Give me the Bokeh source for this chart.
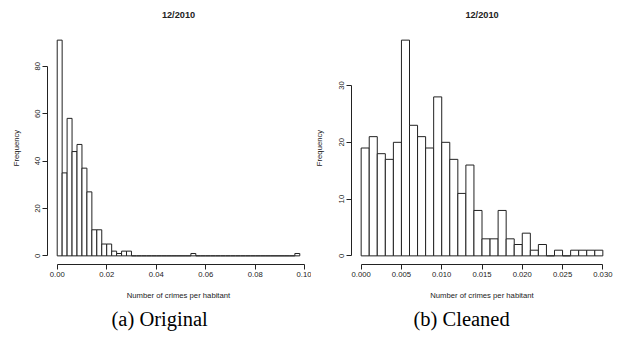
from bokeh.plotting import figure
from bokeh.models import Range1d, FixedTicker, NumeralTickFormatter, Title, ColumnDataSource
from bokeh.layouts import row
from bokeh.embed import file_html
from bokeh.resources import INLINE

# ---- data ----
panel_title = "12/2010"
x_label = "Number of crimes per habitant"
y_label = "Frequency"

orig_caption = "(a) Original"
orig_bin_width = 0.002
orig_counts = [91, 35, 58, 44, 47, 37, 27, 11, 11, 5, 5, 2, 1, 2, 2,
               0, 0, 0, 0, 0, 0, 0, 0, 0, 0, 0, 0,
               1,
               0, 0, 0, 0, 0, 0, 0, 0, 0, 0, 0, 0, 0, 0, 0, 0, 0, 0, 0, 0,
               1]
orig_x_ticks = [0.00, 0.02, 0.04, 0.06, 0.08, 0.10]
orig_y_ticks = [0, 20, 40, 60, 80]

clean_caption = "(b) Cleaned"
clean_bin_width = 0.001
clean_counts = [19, 21, 18, 17, 20, 38, 23, 21, 19, 28, 20, 17, 11, 16, 8,
                3, 3, 8, 3, 2, 4, 1, 2, 0, 1, 0, 1, 1, 1, 1]
clean_x_ticks = [0.000, 0.005, 0.010, 0.015, 0.020, 0.025, 0.030]
clean_y_ticks = [0, 10, 20, 30]

SANS = "Liberation Sans"
SERIF = "Liberation Serif"
INK = "#222222"


def make_panel(counts, bw, x_ticks, y_ticks, x_fmt, caption, left_border, cap_offset, ylab_standoff):
    n = len(counts)
    x_max = n * bw
    y_max = max(counts)
    xpad = 0.04 * x_max
    ypad = 0.04 * y_max
    src = ColumnDataSource(dict(
        left=[i * bw for i in range(n)],
        right=[(i + 1) * bw for i in range(n)],
        top=counts,
        bottom=[0] * n,
    ))
    p = figure(width=311, height=338, output_backend="svg", toolbar_location=None,
               x_range=Range1d(-xpad, x_max + xpad), y_range=Range1d(-ypad, y_max + ypad),
               min_border_left=left_border, min_border_right=311 - left_border - 262,
               min_border_top=29, min_border_bottom=74)
    p.quad(left="left", right="right", top="top", bottom="bottom", source=src,
           fill_color="white", line_color=INK, line_width=1)
    p.grid.visible = False
    p.outline_line_color = None
    p.background_fill_color = "white"
    p.border_fill_color = "white"

    p.title.text = panel_title
    p.title.text_font = SANS
    p.title.text_font_size = "9.2px"
    p.title.text_font_style = "bold"
    p.title.text_color = INK
    p.title.align = "center"
    p.title.vertical_align = "top"
    p.title.standoff = 18.5

    for ax, ticks in ((p.xaxis[0], x_ticks), (p.yaxis[0], y_ticks)):
        ax.ticker = FixedTicker(ticks=ticks)
        ax.bounds = (ticks[0], ticks[-1])
        ax.axis_line_color = INK
        ax.major_tick_line_color = INK
        ax.minor_tick_line_color = None
        ax.major_tick_out = 5
        ax.major_tick_in = 0
        ax.major_label_text_font = SANS
        ax.major_label_text_font_size = "7.7px"
        ax.major_label_text_color = INK
        ax.major_label_standoff = 2
        ax.axis_label_text_font = SANS
        ax.axis_label_text_font_size = "7.7px"
        ax.axis_label_text_font_style = "normal"
        ax.axis_label_text_color = INK
        ax.axis_label_standoff = 11
    p.yaxis.axis_label_standoff = ylab_standoff
    p.xaxis.formatter = NumeralTickFormatter(format=x_fmt)
    p.xaxis.axis_label = x_label
    p.yaxis.axis_label = y_label
    p.yaxis.major_label_orientation = "vertical"

    cap = Title(text=caption, text_font=SERIF, text_font_size="20.5px",
                text_font_style="normal", text_color="black", align="left",
                offset=cap_offset, standoff=6)
    p.add_layout(cap, "below")
    return p


p1 = make_panel(orig_counts, orig_bin_width, orig_x_ticks, orig_y_ticks, "0.00",
                orig_caption, 47, 64, 12)
p2 = make_panel(clean_counts, clean_bin_width, clean_x_ticks, clean_y_ticks, "0.000",
                clean_caption, 39, 62, 13)

layout = row(p1, p2)
open("out.html", "w").write(file_html(layout, INLINE))
